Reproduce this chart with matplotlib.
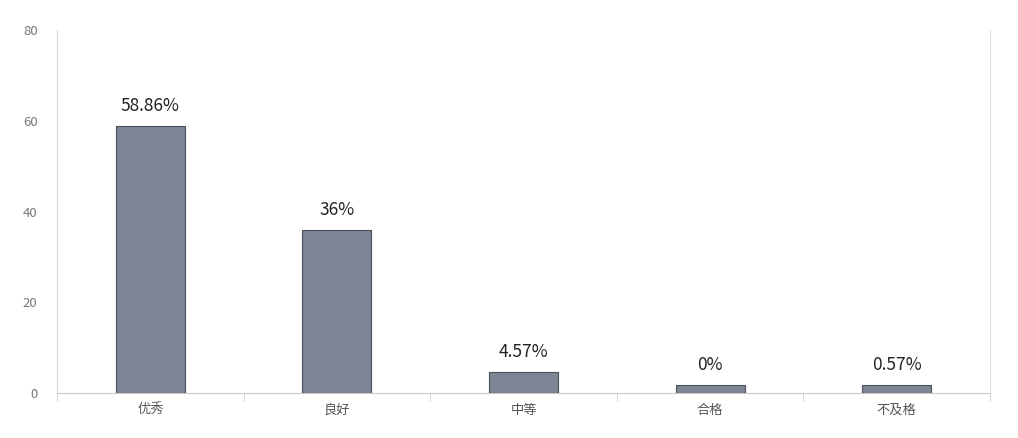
import matplotlib
matplotlib.use("Agg")
import matplotlib.pyplot as plt
import numpy as np

plt.rcParams['font.family'] = ['Noto Sans CJK SC', 'DejaVu Sans']

categories = ['优秀', '良好', '中等', '合格', '不及格']
values = [58.86, 36, 4.57, 0, 0.57]
labels = ['58.86%', '36%', '4.57%', '0%', '0.57%']
yticks = [0, 20, 40, 60, 80]

fig = plt.figure(figsize=(10.18, 4.38), dpi=100)
ax = fig.add_axes([0.056, 0.1027, 0.9165, 0.8288])

x = np.arange(len(categories))
min_h = 1.8
heights = np.maximum(values, min_h)
ax.bar(x, heights, width=0.37, color='#7d8595', edgecolor='#4a505a', linewidth=0.8, zorder=3)

for xi, h, lab in zip(x, heights, labels):
    ax.text(xi, h + 2.4, lab, ha='center', va='bottom', fontsize=12.5, color='#222222')

ax.set_xlim(-0.5, 4.5)
ax.set_ylim(0, 80)
ax.set_yticks(yticks)
ax.set_yticklabels([str(t) for t in yticks], fontsize=9.5, color='#777777')
ax.set_xticks(x)
ax.set_xticklabels(categories, fontsize=9.5, color='#555555')
ax.set_xticks(np.arange(-0.5, 5, 1), minor=True)
ax.tick_params(axis='x', which='major', length=0, pad=8)
ax.tick_params(axis='x', which='minor', length=6, color='#cccccc', direction='out')
ax.tick_params(axis='y', length=0, pad=14)

ax.spines['top'].set_visible(False)
ax.spines['left'].set_color('#d8d8d8')
ax.spines['left'].set_linestyle((0, (1, 1)))
ax.spines['right'].set_color('#e0e0e0')
ax.spines['right'].set_linestyle((0, (1, 1)))
ax.spines['bottom'].set_color('#c8c8c8')
ax.spines['bottom'].set_linewidth(0.8)

fig.savefig('out.png', dpi=100)
